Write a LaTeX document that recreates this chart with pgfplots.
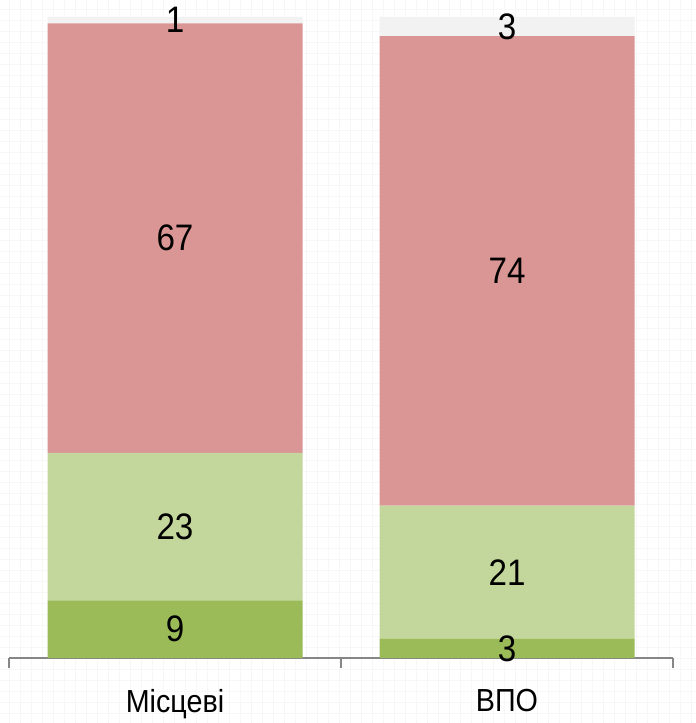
\documentclass[border=0pt]{standalone}
\usepackage{pgfplots}
\pgfplotsset{compat=1.18}
\usepackage{fontspec}
\setmainfont{Liberation Sans}[FakeStretch=0.9]
\definecolor{dgreen}{HTML}{9BBB59}
\definecolor{lgreen}{HTML}{C3D69B}
\definecolor{pinkred}{HTML}{D99694}
\definecolor{lgray}{HTML}{F2F2F2}
\definecolor{axgray}{HTML}{868686}
\begin{document}
\begin{tikzpicture}
\fill[white] (-9bp,-65bp) rectangle (687bp,658bp);
\draw[black!3, line width=0.6bp, step=11bp] (-9bp,-65bp) grid (687bp,658bp);
\begin{axis}[
  scale only axis,
  width=664bp, height=658bp,
  xmin=-0.5, xmax=1.5,
  ymin=0, ymax=102.65,
  ybar stacked,
  bar width=255bp,
  axis y line=none,
  axis x line*=bottom,
  x axis line style={axgray, line width=1.3bp, -},
  xtick={0,1},
  xticklabels={Місцеві, ВПО},
  major tick length=0pt,
  extra x ticks={-0.5,0.5,1.5},
  extra x tick labels={},
  extra x tick style={major tick length=10bp, tick align=outside, tick style={axgray, line width=1.3bp}},
  xticklabel style={font=\fontsize{32}{32}\selectfont, text=black, yshift=-28bp},
  clip=false,
]
% shares of each group (in %, each bar scaled to 100)
\addplot[fill=dgreen, draw=none] coordinates {(0,9) (1,2.97)};
\addplot[fill=lgreen, draw=none] coordinates {(0,23) (1,20.79)};
\addplot[fill=pinkred, draw=none] coordinates {(0,67) (1,73.27)};
\addplot[fill=lgray, draw=none] coordinates {(0,1) (1,2.97)};
\end{axis}
\begin{axis}[
  scale only axis,
  width=664bp, height=658bp,
  xmin=-0.5, xmax=1.5,
  ymin=0, ymax=102.65,
  hide axis,
  clip=false,
  point meta=explicit symbolic,
  nodes near coords={\pgfplotspointmeta},
  every node near coord/.append style={font=\fontsize{37}{37}\selectfont, text=black, anchor=center},
]
% labels at the middle of each segment: published values
\addplot[only marks, mark=none] coordinates {
  (0,4.5) [9] (0,20.5) [23] (0,65.5) [67] (0,99.5) [1]
  (1,1.485) [3] (1,13.365) [21] (1,60.395) [74] (1,98.515) [3]
};
\end{axis}
\pgfresetboundingbox
\useasboundingbox (-9bp,-65bp) rectangle (687bp,658bp);
\end{tikzpicture}
\end{document}
